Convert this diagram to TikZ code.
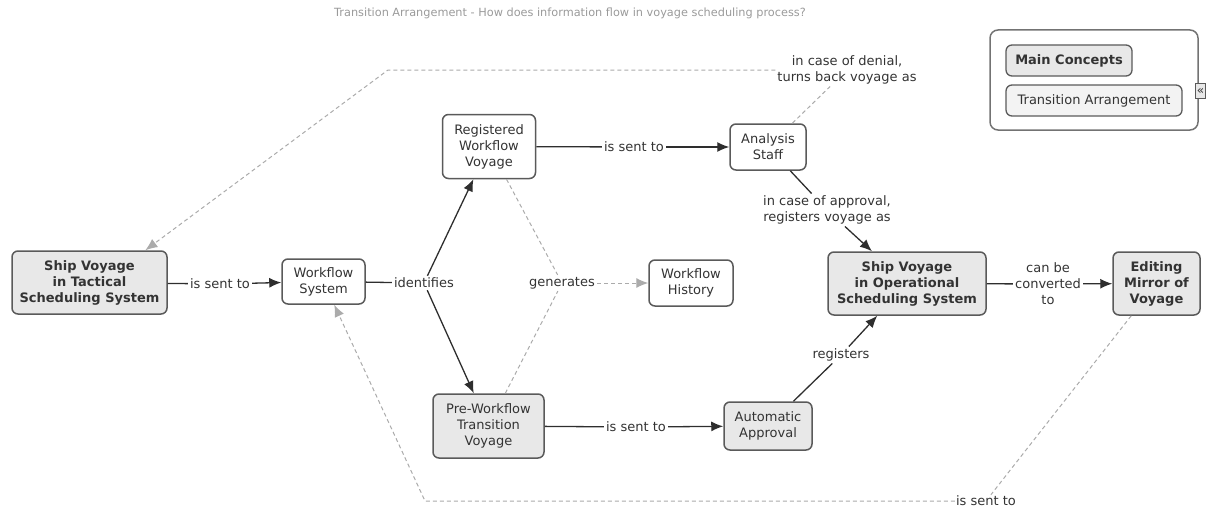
\documentclass[tikz,border=0pt]{standalone}
\usepackage{fontspec}
\setmainfont{DejaVu Sans}
\usetikzlibrary{arrows.meta,calc}
\definecolor{textcol}{HTML}{333333}
\definecolor{bordercol}{HTML}{5A5A5A}
\definecolor{fillgray}{HTML}{E8E8E8}
\definecolor{filllight}{HTML}{F3F3F3}
\definecolor{edgecol}{HTML}{2E2E2E}
\definecolor{dashcol}{HTML}{ABABAB}
\definecolor{titlecol}{HTML}{9A9A9A}
\begin{document}
\begin{tikzpicture}[x=1pt,y=-1pt,
  every node/.style={font=\fontsize{13}{16}\selectfont, text=textcol, align=center},
  concept/.style={draw=bordercol, line width=1.5pt, rounded corners=6pt, fill=white, inner sep=2pt},
  keyconcept/.style={concept, fill=fillgray, font=\fontsize{13}{16}\selectfont\bfseries},
  midconcept/.style={concept, fill=fillgray},
  linkword/.style={inner sep=2pt},
  solidedge/.style={draw=edgecol, line width=1.3pt},
  solidarrow/.style={solidedge, -{Latex[length=12pt,width=10pt]}},
  dashedge/.style={draw=dashcol, line width=1pt, dash pattern=on 4pt off 3pt},
  dasharrow/.style={dashedge, -{Latex[length=12pt,width=10pt]}, dash pattern=on 4pt off 3pt}
]
\useasboundingbox (0,0) rectangle (1206,511);

% title
\node[text=titlecol, font=\fontsize{11.3}{13}\selectfont] (title) at (570,13)
  {Transition Arrangement - How does information flow in voyage scheduling process?};

% concepts
\node[keyconcept, minimum width=155, minimum height=63] (tac) at (89.5,282.5)
  {Ship Voyage\\in Tactical\\Scheduling System};
\node[concept, minimum width=83, minimum height=45] (wfs) at (323.5,281.5)
  {Workflow\\System};
\node[concept, minimum width=93, minimum height=64] (reg) at (489,146.5)
  {Registered\\Workflow\\Voyage};
\node[concept, minimum width=76, minimum height=46] (ana) at (768,147)
  {Analysis\\Staff};
\node[concept, minimum width=84, minimum height=46] (his) at (691,283)
  {Workflow\\History};
\node[midconcept, minimum width=111, minimum height=64] (pre) at (488.5,426)
  {Pre-Workflow\\Transition\\Voyage};
\node[midconcept, minimum width=88, minimum height=48] (auto) at (768,426)
  {Automatic\\Approval};
\node[keyconcept, minimum width=158, minimum height=63] (ops) at (907,283.5)
  {Ship Voyage\\in Operational\\Scheduling System};
\node[keyconcept, minimum width=87, minimum height=63] (edm) at (1156.5,283.5)
  {Editing\\Mirror of\\Voyage};

% linking phrases
\node[linkword] (l1) at (220,284) {is sent to};
\node[linkword] (l2) at (424,283) {identifies};
\node[linkword] (l3) at (634,147) {is sent to};
\node[linkword] (l4) at (562,283) {generates};
\node[linkword] (l5) at (636,427) {is sent to};
\node[linkword] (l6) at (841,355) {registers};
\node[linkword] (l7) at (827,210) {in case of approval,\\registers voyage as};
\node[linkword] (l8) at (847,70) {in case of denial,\\turns back voyage as};
\node[linkword] (l9) at (1048,284) {can be\\converted\\to};
\node[linkword, inner sep=1pt] (l10) at (986,501) {is sent to};

% bend points of the long dashed links
\coordinate (bendA) at (388,70);
\coordinate (bendB) at (425,501);

% connectors
\draw[solidedge] (tac) -- (l1);
\draw[solidarrow] (l1) -- (wfs);
\draw[solidedge] (wfs) -- (l2);
\draw[solidarrow] (l2) -- (reg);
\draw[solidarrow] (l2) -- (pre);
\draw[solidedge] (reg) -- (l3);
\draw[solidarrow] (l3) -- (ana);
\draw[dashedge] (reg) -- (l4);
\draw[dashedge] (pre) -- (l4);
\draw[dasharrow] (l4) -- (his);
\draw[solidedge] (pre) -- (l5);
\draw[solidarrow] (l5) -- (auto);
\draw[solidedge] (auto) -- (l6);
\draw[solidarrow] (l6) -- (ops);
\draw[solidedge] (ana) -- (l7);
\draw[solidarrow] (l7) -- (ops);
\draw[dashedge] (ana) -- (l8);
\draw[dasharrow] (l8.west) -- (bendA) -- (tac.30);
\draw[solidedge] (ops) -- (l9);
\draw[solidarrow] (l9) -- (edm);
\draw[dashedge] (edm) -- (l10);
\draw[dasharrow] (l10.west) -- (bendB) -- (wfs);

% legend
\node[draw=bordercol!85, line width=1.5pt, rounded corners=8pt, minimum width=208, minimum height=100] (legend) at (1094,80) {};
\node[draw=bordercol, line width=1.3pt, rounded corners=6pt, fill=fillgray, minimum width=126, minimum height=31,
  font=\fontsize{13}{16}\selectfont\bfseries] (mc) at (1069,60.5) {Main Concepts};
\node[draw=bordercol, line width=1.3pt, rounded corners=6pt, fill=filllight, minimum width=176, minimum height=31] (ta) at (1094,100.5) {Transition Arrangement};
\node[draw=bordercol, line width=0.8pt, fill=fillgray, minimum width=10, minimum height=15, inner sep=0pt,
  font=\fontsize{12}{12}\selectfont] (handle) at (1200.5,91) {«};
\end{tikzpicture}
\end{document}
